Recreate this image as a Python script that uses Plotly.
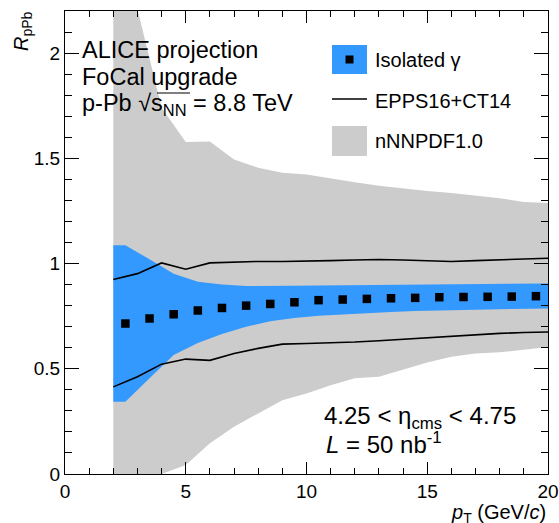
import plotly.graph_objects as go

# ---------------- data ----------------
# Isolated photon projection points (bin centres) and uncertainty band
pt = [2.5, 3.5, 4.5, 5.5, 6.5, 7.5, 8.5, 9.5, 10.5, 11.5, 12.5, 13.5, 14.5,
      15.5, 16.5, 17.5, 18.5, 19.5]
iso_r = [0.715, 0.739, 0.759, 0.777, 0.789, 0.800, 0.808, 0.816, 0.826, 0.829,
         0.832, 0.835, 0.837, 0.840, 0.841, 0.842, 0.843, 0.845]
iso_hi = [1.087, 1.020, 0.952, 0.913, 0.900, 0.893, 0.892, 0.894, 0.896, 0.897,
          0.898, 0.899, 0.900, 0.901, 0.902, 0.903, 0.904, 0.905]
iso_lo = [0.343, 0.455, 0.565, 0.622, 0.665, 0.700, 0.726, 0.741, 0.752, 0.759,
          0.765, 0.770, 0.774, 0.777, 0.780, 0.782, 0.784, 0.786]
pt_edges = [2, 20]

# Model curves on an integer pT grid
model_pt = [2, 3, 4, 5, 6, 7, 8, 9, 10, 11, 12, 13, 14, 15, 16, 17, 18, 19, 20]
epps_hi = [0.924, 0.952, 1.003, 0.973, 1.003, 1.007, 1.010, 1.010, 1.011, 1.014,
           1.017, 1.019, 1.017, 1.014, 1.010, 1.014, 1.018, 1.022, 1.025]
epps_lo = [0.414, 0.462, 0.522, 0.546, 0.540, 0.573, 0.597, 0.617, 0.620, 0.623,
           0.627, 0.633, 0.640, 0.648, 0.656, 0.664, 0.668, 0.672, 0.675]
nnpdf_hi = [3.000, 2.210, 1.740, 1.577, 1.580, 1.494, 1.455, 1.432, 1.423, 1.403,
            1.386, 1.370, 1.356, 1.345, 1.335, 1.323, 1.310, 1.293, 1.288]
nnpdf_lo = [0.000, 0.000, 0.000, 0.043, 0.146, 0.225, 0.288, 0.351, 0.383, 0.422,
            0.455, 0.462, 0.495, 0.530, 0.557, 0.572, 0.578, 0.590, 0.604]

x_range = [0, 20]
y_range = [0, 2.2]

# ---------------- styling ----------------
GREY = "#cccccc"
BLUE = "#3399ff"
FONT = "Liberation Sans"
W, H = 559, 523
ML, MR, MT, MB = 65, 11, 11, 49
PW = W - ML - MR
PH = H - MT - MB


def px(x):
    return (x - ML) / PW


def py(y):
    return (H - MB - y) / PH


fig = go.Figure()

# nNNPDF1.0 band
fig.add_trace(go.Scatter(
    x=model_pt + model_pt[::-1], y=nnpdf_hi + nnpdf_lo[::-1],
    fill="toself", fillcolor=GREY, mode="lines", line=dict(width=0, color=GREY),
    hoverinfo="skip", showlegend=False))

# Isolated photon band (extended flat to the pT range edges)
bx = [pt_edges[0]] + pt + [pt_edges[1]]
bhi = [iso_hi[0]] + iso_hi + [iso_hi[-1]]
blo = [iso_lo[0]] + iso_lo + [iso_lo[-1]]
fig.add_trace(go.Scatter(
    x=bx + bx[::-1], y=bhi + blo[::-1],
    fill="toself", fillcolor=BLUE, mode="lines", line=dict(width=0, color=BLUE),
    hoverinfo="skip", showlegend=False))

# EPPS16+CT14 envelope
for ys in (epps_hi, epps_lo):
    fig.add_trace(go.Scatter(
        x=model_pt, y=ys, mode="lines", line=dict(color="black", width=1.6),
        showlegend=False))

# Isolated photon points
fig.add_trace(go.Scatter(
    x=pt, y=iso_r, mode="markers",
    marker=dict(symbol="square", size=8.5, color="black", line=dict(width=0)),
    showlegend=False))

axis_common = dict(
    showline=True, linecolor="black", linewidth=1, mirror="ticks",
    ticks="inside", tickcolor="black", tickwidth=1,
    showgrid=False, zeroline=False, automargin=False,
    tickfont=dict(family=FONT, size=19, color="black"),
)
fig.update_xaxes(range=x_range, dtick=5, tick0=0, ticklen=12,
                 minor=dict(dtick=1, ticks="inside", ticklen=6, tickcolor="black",
                            showgrid=False),
                 **axis_common)
fig.update_yaxes(range=y_range, dtick=0.5, tick0=0, ticklen=14,
                 minor=dict(dtick=0.1, ticks="inside", ticklen=7, tickcolor="black",
                            showgrid=False),
                 **axis_common)

ann = []


def text(t, x, y, size, xanchor="left", yanchor="middle", angle=0):
    ann.append(dict(text=t, x=x, y=y, xref="paper", yref="paper",
                    xanchor=xanchor, yanchor=yanchor, showarrow=False,
                    textangle=angle,
                    font=dict(family=FONT, size=size, color="black")))


# header text
text("ALICE projection", px(80), py(50), 23.5)
text("FoCal upgrade", px(80), py(77), 23.5)
text("p-Pb √s<sub>NN</sub> = 8.8 TeV", px(80), py(105), 23.5)

# lower-right text
text("4.25 &lt; η<sub>cms</sub> &lt; 4.75", px(322), py(417), 24)
text("<i>L</i> = 50 nb<sup>-1</sup>", px(324), py(443), 24)

# legend text
text("Isolated γ", px(373), py(60), 20)
text("EPPS16+CT14", px(373), py(101), 20)
text("nNNPDF1.0", px(373), py(141), 20)

# axis titles
text("<i>R</i><sub>pPb</sub>", px(23), py(9), 20, xanchor="center", yanchor="top", angle=-90)
text("<i>p</i><sub>T</sub> (GeV/<i>c</i>)", px(548), py(499), 20, xanchor="right", yanchor="top")

shapes = [
    # legend symbols
    dict(type="rect", xref="paper", yref="paper", x0=px(332), x1=px(367),
         y0=py(45), y1=py(74), fillcolor=BLUE, line=dict(width=0)),
    dict(type="rect", xref="paper", yref="paper", x0=px(345.5), x1=px(353.5),
         y0=py(55.5), y1=py(63.5), fillcolor="black", line=dict(width=0)),
    dict(type="line", xref="paper", yref="paper", x0=px(332), x1=px(367),
         y0=py(99), y1=py(99), line=dict(color="black", width=1.6)),
    dict(type="rect", xref="paper", yref="paper", x0=px(332), x1=px(367),
         y0=py(126), y1=py(156), fillcolor=GREY, line=dict(width=0)),
    # overline of the square root
    dict(type="line", xref="paper", yref="paper", x0=px(157), x1=px(190),
         y0=py(93), y1=py(93), line=dict(color="black", width=1)),
]

fig.update_layout(
    width=W, height=H,
    margin=dict(l=ML, r=MR, t=MT, b=MB),
    paper_bgcolor="white", plot_bgcolor="white",
    annotations=ann, shapes=shapes, showlegend=False,
    font=dict(family=FONT, color="black"),
)

fig.write_html("out.html",
               config={"displayModeBar": False},
               post_script="document.body.style.margin='0';"
                           "document.body.style.overflow='hidden';")
